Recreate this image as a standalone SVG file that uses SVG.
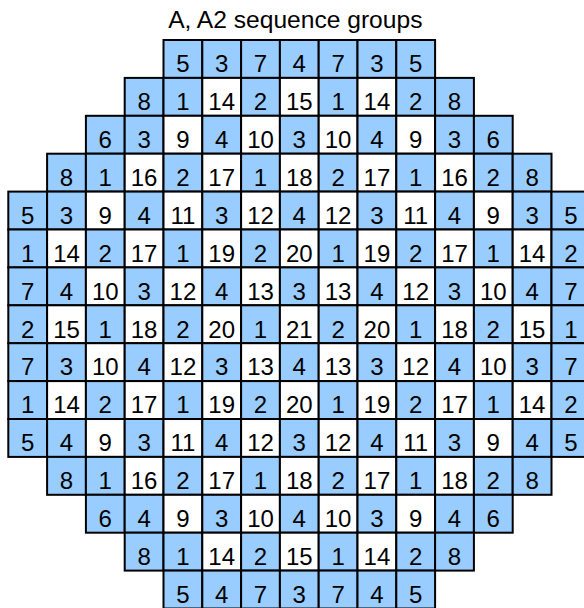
<svg xmlns="http://www.w3.org/2000/svg" width="584" height="608" viewBox="0 0 584 608">
<style>
rect{stroke:#000;stroke-width:2}
rect.bg{fill:#fff;stroke:none}
.b{fill:#99ccff}
.w{fill:#fff}
text{font-family:"Liberation Sans",Arial,sans-serif;font-size:24px;text-anchor:middle;fill:#000}
text.title{font-size:24.6px}
</style>
<rect class="bg" x="0" y="0" width="584" height="608"/>
<text class="title" x="295.3" y="27.5">A, A2 sequence groups</text>
<g id="connectors"></g>
<g id="cells">
<!-- row 0 -->
<g id="r0c4" transform="translate(163.5 40)"><rect class="b" width="38.8" height="37.9"/><text x="19.4" y="32.3">5</text></g>
<g id="r0c5" transform="translate(202.3 40)"><rect class="b" width="38.8" height="37.9"/><text x="19.4" y="32.3">3</text></g>
<g id="r0c6" transform="translate(241.1 40)"><rect class="b" width="38.8" height="37.9"/><text x="19.4" y="32.3">7</text></g>
<g id="r0c7" transform="translate(279.9 40)"><rect class="b" width="38.8" height="37.9"/><text x="19.4" y="32.3">4</text></g>
<g id="r0c8" transform="translate(318.7 40)"><rect class="b" width="38.8" height="37.9"/><text x="19.4" y="32.3">7</text></g>
<g id="r0c9" transform="translate(357.5 40)"><rect class="b" width="38.8" height="37.9"/><text x="19.4" y="32.3">3</text></g>
<g id="r0c10" transform="translate(396.3 40)"><rect class="b" width="38.8" height="37.9"/><text x="19.4" y="32.3">5</text></g>
<!-- row 1 -->
<g id="r1c3" transform="translate(124.7 77.9)"><rect class="b" width="38.8" height="37.9"/><text x="19.4" y="32.3">8</text></g>
<g id="r1c4" transform="translate(163.5 77.9)"><rect class="b" width="38.8" height="37.9"/><text x="19.4" y="32.3">1</text></g>
<g id="r1c5" transform="translate(202.3 77.9)"><rect class="w" width="38.8" height="37.9"/><text x="19.4" y="32.3">14</text></g>
<g id="r1c6" transform="translate(241.1 77.9)"><rect class="b" width="38.8" height="37.9"/><text x="19.4" y="32.3">2</text></g>
<g id="r1c7" transform="translate(279.9 77.9)"><rect class="w" width="38.8" height="37.9"/><text x="19.4" y="32.3">15</text></g>
<g id="r1c8" transform="translate(318.7 77.9)"><rect class="b" width="38.8" height="37.9"/><text x="19.4" y="32.3">1</text></g>
<g id="r1c9" transform="translate(357.5 77.9)"><rect class="w" width="38.8" height="37.9"/><text x="19.4" y="32.3">14</text></g>
<g id="r1c10" transform="translate(396.3 77.9)"><rect class="b" width="38.8" height="37.9"/><text x="19.4" y="32.3">2</text></g>
<g id="r1c11" transform="translate(435.1 77.9)"><rect class="b" width="38.8" height="37.9"/><text x="19.4" y="32.3">8</text></g>
<!-- row 2 -->
<g id="r2c2" transform="translate(85.9 115.8)"><rect class="b" width="38.8" height="37.9"/><text x="19.4" y="32.3">6</text></g>
<g id="r2c3" transform="translate(124.7 115.8)"><rect class="b" width="38.8" height="37.9"/><text x="19.4" y="32.3">3</text></g>
<g id="r2c4" transform="translate(163.5 115.8)"><rect class="w" width="38.8" height="37.9"/><text x="19.4" y="32.3">9</text></g>
<g id="r2c5" transform="translate(202.3 115.8)"><rect class="b" width="38.8" height="37.9"/><text x="19.4" y="32.3">4</text></g>
<g id="r2c6" transform="translate(241.1 115.8)"><rect class="w" width="38.8" height="37.9"/><text x="19.4" y="32.3">10</text></g>
<g id="r2c7" transform="translate(279.9 115.8)"><rect class="b" width="38.8" height="37.9"/><text x="19.4" y="32.3">3</text></g>
<g id="r2c8" transform="translate(318.7 115.8)"><rect class="w" width="38.8" height="37.9"/><text x="19.4" y="32.3">10</text></g>
<g id="r2c9" transform="translate(357.5 115.8)"><rect class="b" width="38.8" height="37.9"/><text x="19.4" y="32.3">4</text></g>
<g id="r2c10" transform="translate(396.3 115.8)"><rect class="w" width="38.8" height="37.9"/><text x="19.4" y="32.3">9</text></g>
<g id="r2c11" transform="translate(435.1 115.8)"><rect class="b" width="38.8" height="37.9"/><text x="19.4" y="32.3">3</text></g>
<g id="r2c12" transform="translate(473.9 115.8)"><rect class="b" width="38.8" height="37.9"/><text x="19.4" y="32.3">6</text></g>
<!-- row 3 -->
<g id="r3c1" transform="translate(47.1 153.7)"><rect class="b" width="38.8" height="37.9"/><text x="19.4" y="32.3">8</text></g>
<g id="r3c2" transform="translate(85.9 153.7)"><rect class="b" width="38.8" height="37.9"/><text x="19.4" y="32.3">1</text></g>
<g id="r3c3" transform="translate(124.7 153.7)"><rect class="w" width="38.8" height="37.9"/><text x="19.4" y="32.3">16</text></g>
<g id="r3c4" transform="translate(163.5 153.7)"><rect class="b" width="38.8" height="37.9"/><text x="19.4" y="32.3">2</text></g>
<g id="r3c5" transform="translate(202.3 153.7)"><rect class="w" width="38.8" height="37.9"/><text x="19.4" y="32.3">17</text></g>
<g id="r3c6" transform="translate(241.1 153.7)"><rect class="b" width="38.8" height="37.9"/><text x="19.4" y="32.3">1</text></g>
<g id="r3c7" transform="translate(279.9 153.7)"><rect class="w" width="38.8" height="37.9"/><text x="19.4" y="32.3">18</text></g>
<g id="r3c8" transform="translate(318.7 153.7)"><rect class="b" width="38.8" height="37.9"/><text x="19.4" y="32.3">2</text></g>
<g id="r3c9" transform="translate(357.5 153.7)"><rect class="w" width="38.8" height="37.9"/><text x="19.4" y="32.3">17</text></g>
<g id="r3c10" transform="translate(396.3 153.7)"><rect class="b" width="38.8" height="37.9"/><text x="19.4" y="32.3">1</text></g>
<g id="r3c11" transform="translate(435.1 153.7)"><rect class="w" width="38.8" height="37.9"/><text x="19.4" y="32.3">16</text></g>
<g id="r3c12" transform="translate(473.9 153.7)"><rect class="b" width="38.8" height="37.9"/><text x="19.4" y="32.3">2</text></g>
<g id="r3c13" transform="translate(512.7 153.7)"><rect class="b" width="38.8" height="37.9"/><text x="19.4" y="32.3">8</text></g>
<!-- row 4 -->
<g id="r4c0" transform="translate(8.3 191.6)"><rect class="b" width="38.8" height="37.9"/><text x="19.4" y="32.3">5</text></g>
<g id="r4c1" transform="translate(47.1 191.6)"><rect class="b" width="38.8" height="37.9"/><text x="19.4" y="32.3">3</text></g>
<g id="r4c2" transform="translate(85.9 191.6)"><rect class="w" width="38.8" height="37.9"/><text x="19.4" y="32.3">9</text></g>
<g id="r4c3" transform="translate(124.7 191.6)"><rect class="b" width="38.8" height="37.9"/><text x="19.4" y="32.3">4</text></g>
<g id="r4c4" transform="translate(163.5 191.6)"><rect class="w" width="38.8" height="37.9"/><text x="19.4" y="32.3">11</text></g>
<g id="r4c5" transform="translate(202.3 191.6)"><rect class="b" width="38.8" height="37.9"/><text x="19.4" y="32.3">3</text></g>
<g id="r4c6" transform="translate(241.1 191.6)"><rect class="w" width="38.8" height="37.9"/><text x="19.4" y="32.3">12</text></g>
<g id="r4c7" transform="translate(279.9 191.6)"><rect class="b" width="38.8" height="37.9"/><text x="19.4" y="32.3">4</text></g>
<g id="r4c8" transform="translate(318.7 191.6)"><rect class="w" width="38.8" height="37.9"/><text x="19.4" y="32.3">12</text></g>
<g id="r4c9" transform="translate(357.5 191.6)"><rect class="b" width="38.8" height="37.9"/><text x="19.4" y="32.3">3</text></g>
<g id="r4c10" transform="translate(396.3 191.6)"><rect class="w" width="38.8" height="37.9"/><text x="19.4" y="32.3">11</text></g>
<g id="r4c11" transform="translate(435.1 191.6)"><rect class="b" width="38.8" height="37.9"/><text x="19.4" y="32.3">4</text></g>
<g id="r4c12" transform="translate(473.9 191.6)"><rect class="w" width="38.8" height="37.9"/><text x="19.4" y="32.3">9</text></g>
<g id="r4c13" transform="translate(512.7 191.6)"><rect class="b" width="38.8" height="37.9"/><text x="19.4" y="32.3">3</text></g>
<g id="r4c14" transform="translate(551.5 191.6)"><rect class="b" width="38.8" height="37.9"/><text x="19.4" y="32.3">5</text></g>
<!-- row 5 -->
<g id="r5c0" transform="translate(8.3 229.5)"><rect class="b" width="38.8" height="37.9"/><text x="19.4" y="32.3">1</text></g>
<g id="r5c1" transform="translate(47.1 229.5)"><rect class="w" width="38.8" height="37.9"/><text x="19.4" y="32.3">14</text></g>
<g id="r5c2" transform="translate(85.9 229.5)"><rect class="b" width="38.8" height="37.9"/><text x="19.4" y="32.3">2</text></g>
<g id="r5c3" transform="translate(124.7 229.5)"><rect class="w" width="38.8" height="37.9"/><text x="19.4" y="32.3">17</text></g>
<g id="r5c4" transform="translate(163.5 229.5)"><rect class="b" width="38.8" height="37.9"/><text x="19.4" y="32.3">1</text></g>
<g id="r5c5" transform="translate(202.3 229.5)"><rect class="w" width="38.8" height="37.9"/><text x="19.4" y="32.3">19</text></g>
<g id="r5c6" transform="translate(241.1 229.5)"><rect class="b" width="38.8" height="37.9"/><text x="19.4" y="32.3">2</text></g>
<g id="r5c7" transform="translate(279.9 229.5)"><rect class="w" width="38.8" height="37.9"/><text x="19.4" y="32.3">20</text></g>
<g id="r5c8" transform="translate(318.7 229.5)"><rect class="b" width="38.8" height="37.9"/><text x="19.4" y="32.3">1</text></g>
<g id="r5c9" transform="translate(357.5 229.5)"><rect class="w" width="38.8" height="37.9"/><text x="19.4" y="32.3">19</text></g>
<g id="r5c10" transform="translate(396.3 229.5)"><rect class="b" width="38.8" height="37.9"/><text x="19.4" y="32.3">2</text></g>
<g id="r5c11" transform="translate(435.1 229.5)"><rect class="w" width="38.8" height="37.9"/><text x="19.4" y="32.3">17</text></g>
<g id="r5c12" transform="translate(473.9 229.5)"><rect class="b" width="38.8" height="37.9"/><text x="19.4" y="32.3">1</text></g>
<g id="r5c13" transform="translate(512.7 229.5)"><rect class="w" width="38.8" height="37.9"/><text x="19.4" y="32.3">14</text></g>
<g id="r5c14" transform="translate(551.5 229.5)"><rect class="b" width="38.8" height="37.9"/><text x="19.4" y="32.3">2</text></g>
<!-- row 6 -->
<g id="r6c0" transform="translate(8.3 267.4)"><rect class="b" width="38.8" height="37.9"/><text x="19.4" y="32.3">7</text></g>
<g id="r6c1" transform="translate(47.1 267.4)"><rect class="b" width="38.8" height="37.9"/><text x="19.4" y="32.3">4</text></g>
<g id="r6c2" transform="translate(85.9 267.4)"><rect class="w" width="38.8" height="37.9"/><text x="19.4" y="32.3">10</text></g>
<g id="r6c3" transform="translate(124.7 267.4)"><rect class="b" width="38.8" height="37.9"/><text x="19.4" y="32.3">3</text></g>
<g id="r6c4" transform="translate(163.5 267.4)"><rect class="w" width="38.8" height="37.9"/><text x="19.4" y="32.3">12</text></g>
<g id="r6c5" transform="translate(202.3 267.4)"><rect class="b" width="38.8" height="37.9"/><text x="19.4" y="32.3">4</text></g>
<g id="r6c6" transform="translate(241.1 267.4)"><rect class="w" width="38.8" height="37.9"/><text x="19.4" y="32.3">13</text></g>
<g id="r6c7" transform="translate(279.9 267.4)"><rect class="b" width="38.8" height="37.9"/><text x="19.4" y="32.3">3</text></g>
<g id="r6c8" transform="translate(318.7 267.4)"><rect class="w" width="38.8" height="37.9"/><text x="19.4" y="32.3">13</text></g>
<g id="r6c9" transform="translate(357.5 267.4)"><rect class="b" width="38.8" height="37.9"/><text x="19.4" y="32.3">4</text></g>
<g id="r6c10" transform="translate(396.3 267.4)"><rect class="w" width="38.8" height="37.9"/><text x="19.4" y="32.3">12</text></g>
<g id="r6c11" transform="translate(435.1 267.4)"><rect class="b" width="38.8" height="37.9"/><text x="19.4" y="32.3">3</text></g>
<g id="r6c12" transform="translate(473.9 267.4)"><rect class="w" width="38.8" height="37.9"/><text x="19.4" y="32.3">10</text></g>
<g id="r6c13" transform="translate(512.7 267.4)"><rect class="b" width="38.8" height="37.9"/><text x="19.4" y="32.3">4</text></g>
<g id="r6c14" transform="translate(551.5 267.4)"><rect class="b" width="38.8" height="37.9"/><text x="19.4" y="32.3">7</text></g>
<!-- row 7 -->
<g id="r7c0" transform="translate(8.3 305.3)"><rect class="b" width="38.8" height="37.9"/><text x="19.4" y="32.3">2</text></g>
<g id="r7c1" transform="translate(47.1 305.3)"><rect class="w" width="38.8" height="37.9"/><text x="19.4" y="32.3">15</text></g>
<g id="r7c2" transform="translate(85.9 305.3)"><rect class="b" width="38.8" height="37.9"/><text x="19.4" y="32.3">1</text></g>
<g id="r7c3" transform="translate(124.7 305.3)"><rect class="w" width="38.8" height="37.9"/><text x="19.4" y="32.3">18</text></g>
<g id="r7c4" transform="translate(163.5 305.3)"><rect class="b" width="38.8" height="37.9"/><text x="19.4" y="32.3">2</text></g>
<g id="r7c5" transform="translate(202.3 305.3)"><rect class="w" width="38.8" height="37.9"/><text x="19.4" y="32.3">20</text></g>
<g id="r7c6" transform="translate(241.1 305.3)"><rect class="b" width="38.8" height="37.9"/><text x="19.4" y="32.3">1</text></g>
<g id="r7c7" transform="translate(279.9 305.3)"><rect class="w" width="38.8" height="37.9"/><text x="19.4" y="32.3">21</text></g>
<g id="r7c8" transform="translate(318.7 305.3)"><rect class="b" width="38.8" height="37.9"/><text x="19.4" y="32.3">2</text></g>
<g id="r7c9" transform="translate(357.5 305.3)"><rect class="w" width="38.8" height="37.9"/><text x="19.4" y="32.3">20</text></g>
<g id="r7c10" transform="translate(396.3 305.3)"><rect class="b" width="38.8" height="37.9"/><text x="19.4" y="32.3">1</text></g>
<g id="r7c11" transform="translate(435.1 305.3)"><rect class="w" width="38.8" height="37.9"/><text x="19.4" y="32.3">18</text></g>
<g id="r7c12" transform="translate(473.9 305.3)"><rect class="b" width="38.8" height="37.9"/><text x="19.4" y="32.3">2</text></g>
<g id="r7c13" transform="translate(512.7 305.3)"><rect class="w" width="38.8" height="37.9"/><text x="19.4" y="32.3">15</text></g>
<g id="r7c14" transform="translate(551.5 305.3)"><rect class="b" width="38.8" height="37.9"/><text x="19.4" y="32.3">1</text></g>
<!-- row 8 -->
<g id="r8c0" transform="translate(8.3 343.2)"><rect class="b" width="38.8" height="37.9"/><text x="19.4" y="32.3">7</text></g>
<g id="r8c1" transform="translate(47.1 343.2)"><rect class="b" width="38.8" height="37.9"/><text x="19.4" y="32.3">3</text></g>
<g id="r8c2" transform="translate(85.9 343.2)"><rect class="w" width="38.8" height="37.9"/><text x="19.4" y="32.3">10</text></g>
<g id="r8c3" transform="translate(124.7 343.2)"><rect class="b" width="38.8" height="37.9"/><text x="19.4" y="32.3">4</text></g>
<g id="r8c4" transform="translate(163.5 343.2)"><rect class="w" width="38.8" height="37.9"/><text x="19.4" y="32.3">12</text></g>
<g id="r8c5" transform="translate(202.3 343.2)"><rect class="b" width="38.8" height="37.9"/><text x="19.4" y="32.3">3</text></g>
<g id="r8c6" transform="translate(241.1 343.2)"><rect class="w" width="38.8" height="37.9"/><text x="19.4" y="32.3">13</text></g>
<g id="r8c7" transform="translate(279.9 343.2)"><rect class="b" width="38.8" height="37.9"/><text x="19.4" y="32.3">4</text></g>
<g id="r8c8" transform="translate(318.7 343.2)"><rect class="w" width="38.8" height="37.9"/><text x="19.4" y="32.3">13</text></g>
<g id="r8c9" transform="translate(357.5 343.2)"><rect class="b" width="38.8" height="37.9"/><text x="19.4" y="32.3">3</text></g>
<g id="r8c10" transform="translate(396.3 343.2)"><rect class="w" width="38.8" height="37.9"/><text x="19.4" y="32.3">12</text></g>
<g id="r8c11" transform="translate(435.1 343.2)"><rect class="b" width="38.8" height="37.9"/><text x="19.4" y="32.3">4</text></g>
<g id="r8c12" transform="translate(473.9 343.2)"><rect class="w" width="38.8" height="37.9"/><text x="19.4" y="32.3">10</text></g>
<g id="r8c13" transform="translate(512.7 343.2)"><rect class="b" width="38.8" height="37.9"/><text x="19.4" y="32.3">3</text></g>
<g id="r8c14" transform="translate(551.5 343.2)"><rect class="b" width="38.8" height="37.9"/><text x="19.4" y="32.3">7</text></g>
<!-- row 9 -->
<g id="r9c0" transform="translate(8.3 381.1)"><rect class="b" width="38.8" height="37.9"/><text x="19.4" y="32.3">1</text></g>
<g id="r9c1" transform="translate(47.1 381.1)"><rect class="w" width="38.8" height="37.9"/><text x="19.4" y="32.3">14</text></g>
<g id="r9c2" transform="translate(85.9 381.1)"><rect class="b" width="38.8" height="37.9"/><text x="19.4" y="32.3">2</text></g>
<g id="r9c3" transform="translate(124.7 381.1)"><rect class="w" width="38.8" height="37.9"/><text x="19.4" y="32.3">17</text></g>
<g id="r9c4" transform="translate(163.5 381.1)"><rect class="b" width="38.8" height="37.9"/><text x="19.4" y="32.3">1</text></g>
<g id="r9c5" transform="translate(202.3 381.1)"><rect class="w" width="38.8" height="37.9"/><text x="19.4" y="32.3">19</text></g>
<g id="r9c6" transform="translate(241.1 381.1)"><rect class="b" width="38.8" height="37.9"/><text x="19.4" y="32.3">2</text></g>
<g id="r9c7" transform="translate(279.9 381.1)"><rect class="w" width="38.8" height="37.9"/><text x="19.4" y="32.3">20</text></g>
<g id="r9c8" transform="translate(318.7 381.1)"><rect class="b" width="38.8" height="37.9"/><text x="19.4" y="32.3">1</text></g>
<g id="r9c9" transform="translate(357.5 381.1)"><rect class="w" width="38.8" height="37.9"/><text x="19.4" y="32.3">19</text></g>
<g id="r9c10" transform="translate(396.3 381.1)"><rect class="b" width="38.8" height="37.9"/><text x="19.4" y="32.3">2</text></g>
<g id="r9c11" transform="translate(435.1 381.1)"><rect class="w" width="38.8" height="37.9"/><text x="19.4" y="32.3">17</text></g>
<g id="r9c12" transform="translate(473.9 381.1)"><rect class="b" width="38.8" height="37.9"/><text x="19.4" y="32.3">1</text></g>
<g id="r9c13" transform="translate(512.7 381.1)"><rect class="w" width="38.8" height="37.9"/><text x="19.4" y="32.3">14</text></g>
<g id="r9c14" transform="translate(551.5 381.1)"><rect class="b" width="38.8" height="37.9"/><text x="19.4" y="32.3">2</text></g>
<!-- row 10 -->
<g id="r10c0" transform="translate(8.3 419)"><rect class="b" width="38.8" height="37.9"/><text x="19.4" y="32.3">5</text></g>
<g id="r10c1" transform="translate(47.1 419)"><rect class="b" width="38.8" height="37.9"/><text x="19.4" y="32.3">4</text></g>
<g id="r10c2" transform="translate(85.9 419)"><rect class="w" width="38.8" height="37.9"/><text x="19.4" y="32.3">9</text></g>
<g id="r10c3" transform="translate(124.7 419)"><rect class="b" width="38.8" height="37.9"/><text x="19.4" y="32.3">3</text></g>
<g id="r10c4" transform="translate(163.5 419)"><rect class="w" width="38.8" height="37.9"/><text x="19.4" y="32.3">11</text></g>
<g id="r10c5" transform="translate(202.3 419)"><rect class="b" width="38.8" height="37.9"/><text x="19.4" y="32.3">4</text></g>
<g id="r10c6" transform="translate(241.1 419)"><rect class="w" width="38.8" height="37.9"/><text x="19.4" y="32.3">12</text></g>
<g id="r10c7" transform="translate(279.9 419)"><rect class="b" width="38.8" height="37.9"/><text x="19.4" y="32.3">3</text></g>
<g id="r10c8" transform="translate(318.7 419)"><rect class="w" width="38.8" height="37.9"/><text x="19.4" y="32.3">12</text></g>
<g id="r10c9" transform="translate(357.5 419)"><rect class="b" width="38.8" height="37.9"/><text x="19.4" y="32.3">4</text></g>
<g id="r10c10" transform="translate(396.3 419)"><rect class="w" width="38.8" height="37.9"/><text x="19.4" y="32.3">11</text></g>
<g id="r10c11" transform="translate(435.1 419)"><rect class="b" width="38.8" height="37.9"/><text x="19.4" y="32.3">3</text></g>
<g id="r10c12" transform="translate(473.9 419)"><rect class="w" width="38.8" height="37.9"/><text x="19.4" y="32.3">9</text></g>
<g id="r10c13" transform="translate(512.7 419)"><rect class="b" width="38.8" height="37.9"/><text x="19.4" y="32.3">4</text></g>
<g id="r10c14" transform="translate(551.5 419)"><rect class="b" width="38.8" height="37.9"/><text x="19.4" y="32.3">5</text></g>
<!-- row 11 -->
<g id="r11c1" transform="translate(47.1 456.9)"><rect class="b" width="38.8" height="37.9"/><text x="19.4" y="32.3">8</text></g>
<g id="r11c2" transform="translate(85.9 456.9)"><rect class="b" width="38.8" height="37.9"/><text x="19.4" y="32.3">1</text></g>
<g id="r11c3" transform="translate(124.7 456.9)"><rect class="w" width="38.8" height="37.9"/><text x="19.4" y="32.3">16</text></g>
<g id="r11c4" transform="translate(163.5 456.9)"><rect class="b" width="38.8" height="37.9"/><text x="19.4" y="32.3">2</text></g>
<g id="r11c5" transform="translate(202.3 456.9)"><rect class="w" width="38.8" height="37.9"/><text x="19.4" y="32.3">17</text></g>
<g id="r11c6" transform="translate(241.1 456.9)"><rect class="b" width="38.8" height="37.9"/><text x="19.4" y="32.3">1</text></g>
<g id="r11c7" transform="translate(279.9 456.9)"><rect class="w" width="38.8" height="37.9"/><text x="19.4" y="32.3">18</text></g>
<g id="r11c8" transform="translate(318.7 456.9)"><rect class="b" width="38.8" height="37.9"/><text x="19.4" y="32.3">2</text></g>
<g id="r11c9" transform="translate(357.5 456.9)"><rect class="w" width="38.8" height="37.9"/><text x="19.4" y="32.3">17</text></g>
<g id="r11c10" transform="translate(396.3 456.9)"><rect class="b" width="38.8" height="37.9"/><text x="19.4" y="32.3">1</text></g>
<g id="r11c11" transform="translate(435.1 456.9)"><rect class="w" width="38.8" height="37.9"/><text x="19.4" y="32.3">18</text></g>
<g id="r11c12" transform="translate(473.9 456.9)"><rect class="b" width="38.8" height="37.9"/><text x="19.4" y="32.3">2</text></g>
<g id="r11c13" transform="translate(512.7 456.9)"><rect class="b" width="38.8" height="37.9"/><text x="19.4" y="32.3">8</text></g>
<!-- row 12 -->
<g id="r12c2" transform="translate(85.9 494.8)"><rect class="b" width="38.8" height="37.9"/><text x="19.4" y="32.3">6</text></g>
<g id="r12c3" transform="translate(124.7 494.8)"><rect class="b" width="38.8" height="37.9"/><text x="19.4" y="32.3">4</text></g>
<g id="r12c4" transform="translate(163.5 494.8)"><rect class="w" width="38.8" height="37.9"/><text x="19.4" y="32.3">9</text></g>
<g id="r12c5" transform="translate(202.3 494.8)"><rect class="b" width="38.8" height="37.9"/><text x="19.4" y="32.3">3</text></g>
<g id="r12c6" transform="translate(241.1 494.8)"><rect class="w" width="38.8" height="37.9"/><text x="19.4" y="32.3">10</text></g>
<g id="r12c7" transform="translate(279.9 494.8)"><rect class="b" width="38.8" height="37.9"/><text x="19.4" y="32.3">4</text></g>
<g id="r12c8" transform="translate(318.7 494.8)"><rect class="w" width="38.8" height="37.9"/><text x="19.4" y="32.3">10</text></g>
<g id="r12c9" transform="translate(357.5 494.8)"><rect class="b" width="38.8" height="37.9"/><text x="19.4" y="32.3">3</text></g>
<g id="r12c10" transform="translate(396.3 494.8)"><rect class="w" width="38.8" height="37.9"/><text x="19.4" y="32.3">9</text></g>
<g id="r12c11" transform="translate(435.1 494.8)"><rect class="b" width="38.8" height="37.9"/><text x="19.4" y="32.3">4</text></g>
<g id="r12c12" transform="translate(473.9 494.8)"><rect class="b" width="38.8" height="37.9"/><text x="19.4" y="32.3">6</text></g>
<!-- row 13 -->
<g id="r13c3" transform="translate(124.7 532.7)"><rect class="b" width="38.8" height="37.9"/><text x="19.4" y="32.3">8</text></g>
<g id="r13c4" transform="translate(163.5 532.7)"><rect class="b" width="38.8" height="37.9"/><text x="19.4" y="32.3">1</text></g>
<g id="r13c5" transform="translate(202.3 532.7)"><rect class="w" width="38.8" height="37.9"/><text x="19.4" y="32.3">14</text></g>
<g id="r13c6" transform="translate(241.1 532.7)"><rect class="b" width="38.8" height="37.9"/><text x="19.4" y="32.3">2</text></g>
<g id="r13c7" transform="translate(279.9 532.7)"><rect class="w" width="38.8" height="37.9"/><text x="19.4" y="32.3">15</text></g>
<g id="r13c8" transform="translate(318.7 532.7)"><rect class="b" width="38.8" height="37.9"/><text x="19.4" y="32.3">1</text></g>
<g id="r13c9" transform="translate(357.5 532.7)"><rect class="w" width="38.8" height="37.9"/><text x="19.4" y="32.3">14</text></g>
<g id="r13c10" transform="translate(396.3 532.7)"><rect class="b" width="38.8" height="37.9"/><text x="19.4" y="32.3">2</text></g>
<g id="r13c11" transform="translate(435.1 532.7)"><rect class="b" width="38.8" height="37.9"/><text x="19.4" y="32.3">8</text></g>
<!-- row 14 -->
<g id="r14c4" transform="translate(163.5 570.6)"><rect class="b" width="38.8" height="37.9"/><text x="19.4" y="32.3">5</text></g>
<g id="r14c5" transform="translate(202.3 570.6)"><rect class="b" width="38.8" height="37.9"/><text x="19.4" y="32.3">4</text></g>
<g id="r14c6" transform="translate(241.1 570.6)"><rect class="b" width="38.8" height="37.9"/><text x="19.4" y="32.3">7</text></g>
<g id="r14c7" transform="translate(279.9 570.6)"><rect class="b" width="38.8" height="37.9"/><text x="19.4" y="32.3">3</text></g>
<g id="r14c8" transform="translate(318.7 570.6)"><rect class="b" width="38.8" height="37.9"/><text x="19.4" y="32.3">7</text></g>
<g id="r14c9" transform="translate(357.5 570.6)"><rect class="b" width="38.8" height="37.9"/><text x="19.4" y="32.3">4</text></g>
<g id="r14c10" transform="translate(396.3 570.6)"><rect class="b" width="38.8" height="37.9"/><text x="19.4" y="32.3">5</text></g>
</g>
</svg>
